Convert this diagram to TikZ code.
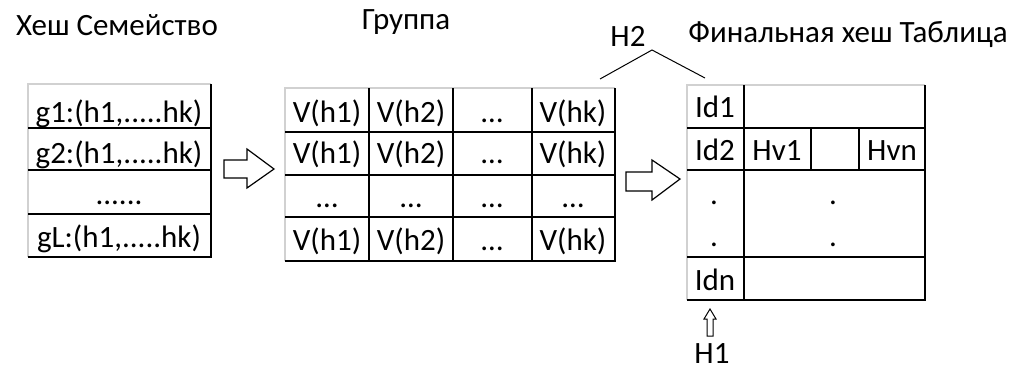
\documentclass[tikz,border=0pt]{standalone}
\usepackage{fontspec}
\setmainfont{Carlito}
\begin{document}
\begin{tikzpicture}[x=1pt,y=-1pt,
  txt/.style={inner sep=0pt,anchor=base,font=\fontsize{31}{32}\selectfont},
  grid/.style={draw=black,line width=1.2pt},
  lite/.style={draw=black!18,line width=1.2pt},
  blockarrow/.style={draw=black,line width=1.2pt,fill=white,line join=miter}]
\useasboundingbox (0,0) rectangle (1024,369);

% titles
\node[txt] (t1) at (117,36) {Хеш Семейство};
\node[txt] (t2) at (406,30) {Группа};
\node[txt] (t3) at (848,43) {Финальная хеш Таблица};

% --- hash family table
\draw[lite] (28,257) -- (28,84) -- (211,84);
\draw[grid] (211,84) -- (211,257) -- (28,257);
\foreach \y in {128,170,214} \draw[grid] (28,\y) -- (211,\y);
\node[txt] (g1) at (119,122) {g1:(h1,.....hk)};
\node[txt] (g2) at (119,163) {g2:(h1,.....hk)};
\node[txt] (gd) at (119,204) {......};
\node[txt] (gL) at (119,247) {gL:(h1,.....hk)};

% --- block arrow into the group table
\draw[blockarrow] (224,160) -- (247,160) -- (247,149) -- (274,169)
  -- (247,188) -- (247,178) -- (224,178) -- cycle;

% --- group table
\draw[lite] (285,261) -- (285,88) -- (615,88);
\draw[grid] (615,88) -- (615,261) -- (285,261);
\foreach \y in {132,175,217} \draw[grid] (285,\y) -- (615,\y);
\foreach \x in {369,453,532} \draw[grid] (\x,88) -- (\x,261);
\foreach \r/\y in {1/122,2/163,4/250}{
  \node[txt] (v\r a) at (327,\y) {V(h1)};
  \node[txt] (v\r b) at (411,\y) {V(h2)};
  \node[txt] (v\r c) at (492,\y) {…};
  \node[txt] (v\r d) at (573,\y) {V(hk)};
}
\node[txt] (v3a) at (327,207) {…};
\node[txt] (v3b) at (411,207) {…};
\node[txt] (v3c) at (492,207) {…};
\node[txt] (v3d) at (573,207) {…};

% --- H2 marker over the group table
\node[txt] (h2) at (628,46) {H2};
\coordinate (h2l) at (600,79);
\coordinate (h2p) at (652,50);
\coordinate (h2r) at (705,78);
\draw[line width=1pt] (h2l) -- (h2p) -- (h2r);

% --- block arrow into the final table
\draw[blockarrow] (626,172) -- (652,172) -- (652,160) -- (680,179)
  -- (652,200) -- (652,191) -- (626,191) -- cycle;

% --- final hash table
\draw[lite] (687,300) -- (687,85) -- (925,85);
\draw[grid] (925,85) -- (925,300) -- (687,300);
\draw[grid] (744,85) -- (744,300);
\foreach \y in {128,170,257} \draw[grid] (687,\y) -- (925,\y);
\draw[grid] (811,128) -- (811,170);
\draw[grid] (859,128) -- (859,170);
\node[txt] (id1) at (715,117) {Id1};
\node[txt] (id2) at (715,160) {Id2};
\node[txt] (hv1) at (777,160) {Hv1};
\node[txt] (hvn) at (892,160) {Hvn};
\node[txt] (dl1) at (714,204) {.};
\node[txt] (dl2) at (714,246) {.};
\node[txt] (dr1) at (833,204) {.};
\node[txt] (dr2) at (833,246) {.};
\node[txt] (idn) at (715,290) {Idn};

% --- H1 pointer under the id column
\node[txt] (h1) at (712,363) {H1};
\coordinate (h1tip) at (710,309);
\draw[line width=1pt] (h1tip) -- (716,319) -- (713,319) -- (713,336) -- (707,336)
  -- (707,319) -- (704,319) -- cycle;
\end{tikzpicture}
\end{document}
